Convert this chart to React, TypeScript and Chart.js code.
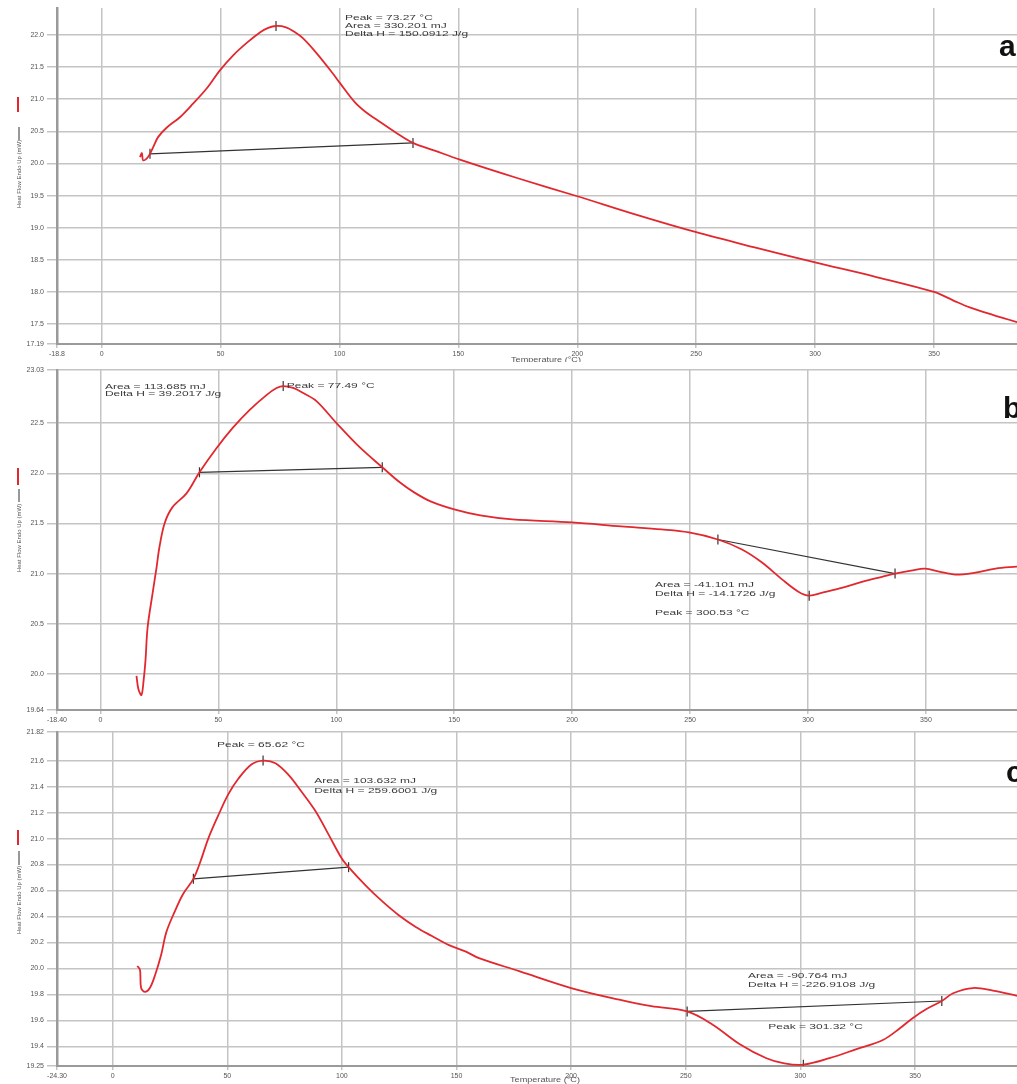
import React, { useEffect, useRef } from "react";
import { Chart, registerables } from "chart.js";

Chart.register(...registerables);

// ---------------- Panel a ----------------
const aTemp = [16.1, 16.9, 17.4, 19.0, 20.3, 21.6, 23.7, 27.4, 32.9, 38.4, 44.2, 49.7, 55.2, 61.1, 66.5, 70.0, 73.3, 77.5, 81.0, 84.6, 90.5, 97.2, 100.2, 106.5, 111.0, 115.7, 123.3, 130.9, 140, 150.6, 175, 200, 225, 250, 275, 300, 325, 350, 358, 365, 375, 385];
const aHeat = [20.10, 20.16, 20.05, 20.08, 20.15, 20.25, 20.41, 20.56, 20.72, 20.93, 21.17, 21.45, 21.68, 21.88, 22.04, 22.11, 22.14, 22.12, 22.05, 21.95, 21.71, 21.40, 21.25, 20.95, 20.80, 20.68, 20.49, 20.32, 20.20, 20.06, 19.77, 19.49, 19.20, 18.93, 18.69, 18.46, 18.24, 18.0, 17.87, 17.76, 17.64, 17.53];
const aBaseTemp = [20.3, 130.9];
const aBaseHeat = [20.15, 20.32];
const aMarkTemp = [20.3, 73.3, 130.9];
const aMarkHeat = [20.15, 22.14, 20.32];
const aNoteTemp = [102.3, 102.3, 102.3];
const aNoteHeat = [22.27, 22.14, 22.02];
const aNoteText = ["Peak = 73.27 °C", "Area = 330.201 mJ", "Delta H = 150.0912 J/g"];
const aXTicks = [-18.8, 0, 50, 100, 150, 200, 250, 300, 350];
const aXLabels = ["-18.8", "0", "50", "100", "150", "200", "250", "300", "350"];
const aYTicks = [17.19, 17.5, 18.0, 18.5, 19.0, 19.5, 20.0, 20.5, 21.0, 21.5, 22.0];
const aYLabels = ["17.19", "17.5", "18.0", "18.5", "19.0", "19.5", "20.0", "20.5", "21.0", "21.5", "22.0"];

// ---------------- Panel b ----------------
const bTemp = [15.3, 16.1, 17.4, 18.3, 19.1, 20.0, 22.1, 23.8, 25.0, 27.2, 30.5, 36.5, 42.0, 49.2, 56.0, 63.2, 70.4, 74.7, 77.5, 82, 86, 91.6, 100.1, 109.9, 119.5, 126.9, 133, 140, 150, 161.1, 174.7, 200, 220.8, 237.9, 249.5, 261.8, 272, 280.5, 289.1, 295.9, 300.5, 306.1, 314.7, 323.2, 331.7, 336.9, 343.7, 349.7, 355.6, 362.5, 371, 379.5, 388.6];
const bHeat = [19.98, 19.85, 19.79, 19.93, 20.13, 20.46, 20.80, 21.06, 21.26, 21.50, 21.66, 21.80, 22.01, 22.25, 22.45, 22.63, 22.78, 22.85, 22.87, 22.85, 22.80, 22.72, 22.50, 22.26, 22.06, 21.91, 21.81, 21.72, 21.64, 21.58, 21.54, 21.51, 21.47, 21.44, 21.41, 21.34, 21.24, 21.11, 20.94, 20.82, 20.78, 20.81, 20.86, 20.92, 20.97, 21.0, 21.03, 21.05, 21.02, 20.99, 21.01, 21.05, 21.07];
const bBase1Temp = [42.0, 119.5];
const bBase1Heat = [22.01, 22.06];
const bBase2Temp = [261.8, 336.9];
const bBase2Heat = [21.34, 21.0];
const bMarkTemp = [42.0, 77.5, 119.5, 261.8, 300.5, 336.9];
const bMarkHeat = [22.01, 22.87, 22.06, 21.34, 20.78, 21.0];
const bNoteTemp = [1.9, 1.9, 79.0, 235.1, 235.1, 235.1];
const bNoteHeat = [22.86, 22.79, 22.87, 20.89, 20.80, 20.61];
const bNoteText = ["Area = 113.685 mJ", "Delta H = 39.2017 J/g", "Peak = 77.49 °C", "Area = -41.101 mJ", "Delta H = -14.1726 J/g", "Peak = 300.53 °C"];
const bXTicks = [-18.4, 0, 50, 100, 150, 200, 250, 300, 350];
const bXLabels = ["-18.40", "0", "50", "100", "150", "200", "250", "300", "350"];
const bYTicks = [19.64, 20.0, 20.5, 21.0, 21.5, 22.0, 22.5, 23.03];
const bYLabels = ["19.64", "20.0", "20.5", "21.0", "21.5", "22.0", "22.5", "23.03"];

// ---------------- Panel c ----------------
const cTemp = [10.7, 11.9, 12.4, 14.1, 16.2, 18.5, 21.2, 23.4, 27.1, 30.6, 35.2, 38.2, 41.7, 46.1, 50.4, 54.8, 60.5, 65.6, 71.0, 76.7, 82.4, 88.5, 94.2, 99.8, 102.9, 110.3, 117.4, 124.8, 132.2, 139.3, 146.7, 154.1, 159.8, 177.3, 200, 221, 235, 250.6, 261.6, 273.4, 285.2, 293, 301.3, 312.7, 324.5, 336.0, 343.4, 349.1, 355.2, 361.7, 366.6, 375.3, 384, 394.5];
const cHeat = [20.02, 19.99, 19.85, 19.82, 19.85, 19.95, 20.11, 20.28, 20.44, 20.57, 20.69, 20.82, 21.0, 21.18, 21.34, 21.46, 21.57, 21.60, 21.58, 21.49, 21.36, 21.21, 21.03, 20.85, 20.78, 20.64, 20.52, 20.41, 20.32, 20.25, 20.18, 20.13, 20.08, 19.98, 19.85, 19.76, 19.71, 19.67, 19.57, 19.42, 19.31, 19.27, 19.26, 19.31, 19.38, 19.45, 19.54, 19.62, 19.69, 19.75, 19.81, 19.85, 19.83, 19.79];
const cBase1Temp = [35.2, 102.9];
const cBase1Heat = [20.69, 20.78];
const cBase2Temp = [250.6, 361.7];
const cBase2Heat = [19.67, 19.75];
const cMarkTemp = [35.2, 65.6, 102.9, 250.6, 301.3, 361.7];
const cMarkHeat = [20.69, 21.60, 20.78, 19.67, 19.26, 19.75];
const cNoteTemp = [45.5, 87.9, 87.9, 277.2, 277.2, 286];
const cNoteHeat = [21.72, 21.44, 21.37, 19.94, 19.87, 19.55];
const cNoteText = ["Peak = 65.62 °C", "Area = 103.632 mJ", "Delta H = 259.6001 J/g", "Area = -90.764 mJ", "Delta H = -226.9108 J/g", "Peak = 301.32 °C"];
const cXTicks = [-24.3, 0, 50, 100, 150, 200, 250, 300, 350];
const cXLabels = ["-24.30", "0", "50", "100", "150", "200", "250", "300", "350"];
const cYTicks = [19.25, 19.4, 19.6, 19.8, 20.0, 20.2, 20.4, 20.6, 20.8, 21.0, 21.2, 21.4, 21.6, 21.82];
const cYLabels = ["19.25", "19.4", "19.6", "19.8", "20.0", "20.2", "20.4", "20.6", "20.8", "21.0", "21.2", "21.4", "21.6", "21.82"];

const Y_TITLE = "Heat Flow Endo Up (mW)";
const X_TITLE = "Temperature (°C)";

const RED = "#e2282f";
const FONT = "'Liberation Sans', Arial, sans-serif";

type Deco = {
  letter: string;
  letterX: number;
  letterY: number;
  redTop: number;
  redBot: number;
  dashTop: number;
  dashBot: number;
  titleCenter: number;
  xTitle: boolean;
  xTitleX: number;
  xTitleY: number;
};

type Panel = {
  top: number;
  height: number;
  padTop: number;
  xAxisH: number;
  xMin: number;
  xMax: number;
  yMin: number;
  yMax: number;
  temp: number[];
  heat: number[];
  bases: [number[], number[]][];
  markTemp: number[];
  markHeat: number[];
  noteTemp: number[];
  noteHeat: number[];
  noteText: string[];
  xTicks: number[];
  xLabels: string[];
  yTicks: number[];
  yLabels: string[];
  deco: Deco;
};

const zip = (xs: number[], ys: number[]) => xs.map((x, i) => ({ x, y: ys[i] }));

function stretchedText(
  ctx: CanvasRenderingContext2D,
  text: string,
  x: number,
  y: number,
  size: number,
  sx: number,
  align: CanvasTextAlign,
  color: string,
  weight = "normal"
) {
  ctx.save();
  ctx.translate(x, y);
  ctx.scale(sx, 1);
  ctx.font = `${weight} ${size}px ${FONT}`;
  ctx.fillStyle = color;
  ctx.textAlign = align;
  ctx.textBaseline = "middle";
  ctx.fillText(text, 0, 0);
  ctx.restore();
}

function buildConfig(p: Panel): any {
  const decoPlugin = {
    id: "decor",
    afterDatasetsDraw(chart: any) {
      const ctx: CanvasRenderingContext2D = chart.ctx;
      const xs = chart.scales.x;
      const ys = chart.scales.y;
      p.noteText.forEach((t, i) => {
        const px = xs.getPixelForValue(p.noteTemp[i]);
        const py = ys.getPixelForValue(p.noteHeat[i]);
        stretchedText(ctx, t, px, py, 7.5, 1.6, "left", "#3a3a3a");
      });
      const d = p.deco;
      ctx.save();
      ctx.strokeStyle = RED;
      ctx.lineWidth = 2;
      ctx.beginPath();
      ctx.moveTo(18, d.redTop);
      ctx.lineTo(18, d.redBot);
      ctx.stroke();
      ctx.strokeStyle = "#333";
      ctx.lineWidth = 1;
      ctx.beginPath();
      ctx.moveTo(19, d.dashTop);
      ctx.lineTo(19, d.dashBot);
      ctx.stroke();
      ctx.translate(19, d.titleCenter);
      ctx.rotate(-Math.PI / 2);
      ctx.font = `6px ${FONT}`;
      ctx.fillStyle = "#555";
      ctx.textAlign = "center";
      ctx.textBaseline = "middle";
      ctx.fillText(Y_TITLE, 0, 0);
      ctx.restore();
      if (d.xTitle) {
        stretchedText(ctx, X_TITLE, d.xTitleX, d.xTitleY, 6.5, 1.4, "center", "#555");
      }
      stretchedText(ctx, d.letter, d.letterX, d.letterY, 30, 1, "left", "#111", "bold");
    },
  };

  const baseSets = p.bases.map(([bx, by]) => ({
    data: zip(bx, by),
    borderColor: "#333",
    borderWidth: 1.2,
    pointRadius: 0,
    tension: 0,
  }));

  return {
    type: "line",
    data: {
      datasets: [
        {
          data: zip(p.temp, p.heat),
          borderColor: RED,
          borderWidth: 1.8,
          pointRadius: 0,
          tension: 0.35,
        },
        ...baseSets,
        {
          data: zip(p.markTemp, p.markHeat),
          showLine: false,
          pointStyle: "line",
          rotation: 90,
          pointRadius: 5,
          pointBorderColor: "#333",
          pointBorderWidth: 1.2,
          borderColor: "#333",
        },
      ],
    },
    options: {
      animation: false,
      responsive: false,
      devicePixelRatio: 1,
      layout: { autoPadding: false, padding: { top: p.padTop, left: 0, right: 0, bottom: 0 } },
      plugins: { legend: { display: false }, tooltip: { enabled: false } },
      scales: {
        x: {
          type: "linear",
          min: p.xMin,
          max: p.xMax,
          afterBuildTicks: (s: any) => {
            s.ticks = p.xTicks.map((v) => ({ value: v }));
          },
          afterFit: (s: any) => {
            s.height = p.xAxisH;
            s.paddingRight = 0;
            s.paddingLeft = 0;
          },
          ticks: {
            autoSkip: false,
            maxRotation: 0,
            padding: 2,
            color: "#555",
            font: { size: 7, family: FONT },
            callback: (v: number) => {
              const i = p.xTicks.indexOf(v);
              return i >= 0 ? p.xLabels[i] : "";
            },
          },
          grid: { color: "#c4c4c4", lineWidth: 1.5, tickLength: 4 },
          border: { color: "#9a9a9a", width: 2 },
        },
        y: {
          type: "linear",
          min: p.yMin,
          max: p.yMax,
          afterBuildTicks: (s: any) => {
            s.ticks = p.yTicks.map((v) => ({ value: v }));
          },
          afterFit: (s: any) => {
            s.width = 57;
          },
          ticks: {
            autoSkip: false,
            padding: 3,
            color: "#555",
            font: { size: 7, family: FONT },
            callback: (v: number) => {
              const i = p.yTicks.indexOf(v);
              return i >= 0 ? p.yLabels[i] : "";
            },
          },
          grid: { color: "#c4c4c4", lineWidth: 1.5, tickLength: 10 },
          border: { color: "#9a9a9a", width: 2.5 },
        },
      },
    },
    plugins: [decoPlugin],
  };
}

const panels: Panel[] = [
  {
    top: 0,
    height: 362,
    padTop: 8,
    xAxisH: 18,
    xMin: -18.8,
    xMax: 384.9,
    yMin: 17.19,
    yMax: 22.42,
    temp: aTemp,
    heat: aHeat,
    bases: [[aBaseTemp, aBaseHeat]],
    markTemp: aMarkTemp,
    markHeat: aMarkHeat,
    noteTemp: aNoteTemp,
    noteHeat: aNoteHeat,
    noteText: aNoteText,
    xTicks: aXTicks,
    xLabels: aXLabels,
    yTicks: aYTicks,
    yLabels: aYLabels,
    deco: { letter: "a", letterX: 999, letterY: 48, redTop: 97, redBot: 112, dashTop: 127, dashBot: 140, titleCenter: 174, xTitle: true, xTitleX: 546, xTitleY: 360 },
  },
  {
    top: 362,
    height: 362,
    padTop: 8,
    xAxisH: 14,
    xMin: -18.4,
    xMax: 388.6,
    yMin: 19.64,
    yMax: 23.03,
    temp: bTemp,
    heat: bHeat,
    bases: [
      [bBase1Temp, bBase1Heat],
      [bBase2Temp, bBase2Heat],
    ],
    markTemp: bMarkTemp,
    markHeat: bMarkHeat,
    noteTemp: bNoteTemp,
    noteHeat: bNoteHeat,
    noteText: bNoteText,
    xTicks: bXTicks,
    xLabels: bXLabels,
    yTicks: bYTicks,
    yLabels: bYLabels,
    deco: { letter: "b", letterX: 1003, letterY: 48, redTop: 106, redBot: 123, dashTop: 127, dashBot: 140, titleCenter: 176, xTitle: false, xTitleX: 0, xTitleY: 0 },
  },
  {
    top: 724,
    height: 360,
    padTop: 8,
    xAxisH: 18,
    xMin: -24.3,
    xMax: 394.5,
    yMin: 19.25,
    yMax: 21.82,
    temp: cTemp,
    heat: cHeat,
    bases: [
      [cBase1Temp, cBase1Heat],
      [cBase2Temp, cBase2Heat],
    ],
    markTemp: cMarkTemp,
    markHeat: cMarkHeat,
    noteTemp: cNoteTemp,
    noteHeat: cNoteHeat,
    noteText: cNoteText,
    xTicks: cXTicks,
    xLabels: cXLabels,
    yTicks: cYTicks,
    yLabels: cYLabels,
    deco: { letter: "c", letterX: 1006, letterY: 50, redTop: 106, redBot: 121, dashTop: 127, dashBot: 141, titleCenter: 176, xTitle: true, xTitleX: 545, xTitleY: 356 },
  },
];

function PanelChart({ panel }: { panel: Panel }) {
  const ref = useRef<HTMLCanvasElement | null>(null);
  useEffect(() => {
    if (!ref.current) return;
    const chart = new Chart(ref.current, buildConfig(panel));
    return () => chart.destroy();
  }, [panel]);
  return (
    <canvas
      ref={ref}
      width={1017}
      height={panel.height}
      style={{ position: "absolute", left: 0, top: panel.top, width: 1017, height: panel.height, display: "block" }}
    />
  );
}

export default function App() {
  return (
    <div style={{ position: "absolute", left: 0, top: 0, width: 1017, height: 1084, background: "#fff", overflow: "hidden" }}>
      {panels.map((p, i) => (
        <PanelChart key={i} panel={p} />
      ))}
    </div>
  );
}
